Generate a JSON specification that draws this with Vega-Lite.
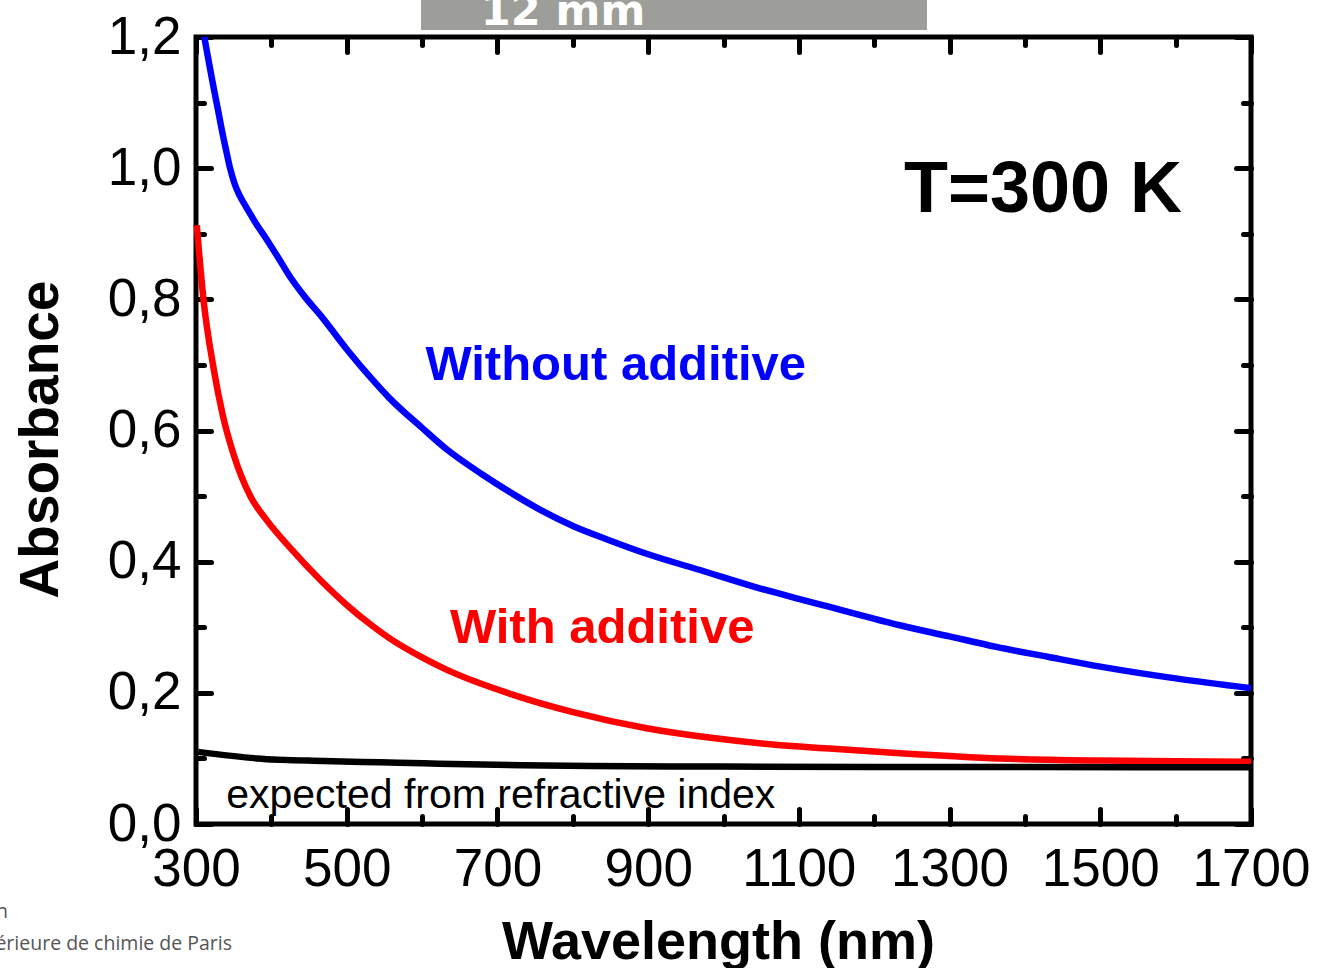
{
  "$schema": "https://vega.github.io/schema/vega-lite/v6.json",
  "width": 1055,
  "height": 787,
  "autosize": {"type": "none"},
  "padding": {"left": 196, "top": 37, "right": 66, "bottom": 144},
  "background": "white",
  "config": {
    "view": {"stroke": "black", "strokeWidth": 5},
    "axis": {
      "domain": false,
      "grid": false,
      "tickColor": "black",
      "tickWidth": 5,
      "tickCap": "round",
      "labelFont": "Liberation Sans",
      "labelFontSize": 53,
      "labelColor": "black",
      "titleFont": "Liberation Sans",
      "titleColor": "black",
      "labelFlush": false,
      "labelOverlap": false
    }
  },
  "datasets": {
    "curves": [
      {"series": "without", "wl": 311, "abs": 1.2},
      {"series": "without", "wl": 318, "abs": 1.156},
      {"series": "without", "wl": 323, "abs": 1.125},
      {"series": "without", "wl": 329, "abs": 1.09},
      {"series": "without", "wl": 334, "abs": 1.06},
      {"series": "without", "wl": 340, "abs": 1.027},
      {"series": "without", "wl": 345, "abs": 1.001},
      {"series": "without", "wl": 351, "abs": 0.977},
      {"series": "without", "wl": 358, "abs": 0.958},
      {"series": "without", "wl": 367, "abs": 0.94},
      {"series": "without", "wl": 380, "abs": 0.915},
      {"series": "without", "wl": 394, "abs": 0.891},
      {"series": "without", "wl": 410, "abs": 0.862},
      {"series": "without", "wl": 425, "abs": 0.834},
      {"series": "without", "wl": 445, "abs": 0.803},
      {"series": "without", "wl": 465, "abs": 0.776},
      {"series": "without", "wl": 500, "abs": 0.724},
      {"series": "without", "wl": 533, "abs": 0.679},
      {"series": "without", "wl": 557, "abs": 0.649},
      {"series": "without", "wl": 600, "abs": 0.604},
      {"series": "without", "wl": 633, "abs": 0.571},
      {"series": "without", "wl": 680, "abs": 0.533},
      {"series": "without", "wl": 721, "abs": 0.503},
      {"series": "without", "wl": 760, "abs": 0.477},
      {"series": "without", "wl": 801, "abs": 0.454},
      {"series": "without", "wl": 850, "abs": 0.432},
      {"series": "without", "wl": 898, "abs": 0.412},
      {"series": "without", "wl": 975, "abs": 0.385},
      {"series": "without", "wl": 1040, "abs": 0.362},
      {"series": "without", "wl": 1101, "abs": 0.343},
      {"series": "without", "wl": 1141, "abs": 0.331},
      {"series": "without", "wl": 1234, "abs": 0.303},
      {"series": "without", "wl": 1300, "abs": 0.286},
      {"series": "without", "wl": 1362, "abs": 0.27},
      {"series": "without", "wl": 1430, "abs": 0.255},
      {"series": "without", "wl": 1500, "abs": 0.24},
      {"series": "without", "wl": 1600, "abs": 0.222},
      {"series": "without", "wl": 1700, "abs": 0.207},
      {"series": "with", "wl": 301, "abs": 0.913},
      {"series": "with", "wl": 310, "abs": 0.799},
      {"series": "with", "wl": 323, "abs": 0.697},
      {"series": "with", "wl": 336, "abs": 0.621},
      {"series": "with", "wl": 350, "abs": 0.563},
      {"series": "with", "wl": 372, "abs": 0.5},
      {"series": "with", "wl": 394, "abs": 0.463},
      {"series": "with", "wl": 425, "abs": 0.421},
      {"series": "with", "wl": 465, "abs": 0.372},
      {"series": "with", "wl": 500, "abs": 0.334},
      {"series": "with", "wl": 533, "abs": 0.303},
      {"series": "with", "wl": 557, "abs": 0.283},
      {"series": "with", "wl": 600, "abs": 0.254},
      {"series": "with", "wl": 633, "abs": 0.235},
      {"series": "with", "wl": 721, "abs": 0.197},
      {"series": "with", "wl": 799, "abs": 0.171},
      {"series": "with", "wl": 898, "abs": 0.146},
      {"series": "with", "wl": 986, "abs": 0.131},
      {"series": "with", "wl": 1101, "abs": 0.118},
      {"series": "with", "wl": 1141, "abs": 0.115},
      {"series": "with", "wl": 1234, "abs": 0.108},
      {"series": "with", "wl": 1367, "abs": 0.1},
      {"series": "with", "wl": 1500, "abs": 0.0967},
      {"series": "with", "wl": 1600, "abs": 0.0955},
      {"series": "with", "wl": 1700, "abs": 0.095},
      {"series": "expected", "wl": 303, "abs": 0.11},
      {"series": "expected", "wl": 381, "abs": 0.1},
      {"series": "expected", "wl": 469, "abs": 0.096},
      {"series": "expected", "wl": 544, "abs": 0.094},
      {"series": "expected", "wl": 602, "abs": 0.0925},
      {"series": "expected", "wl": 734, "abs": 0.0895},
      {"series": "expected", "wl": 823, "abs": 0.0884},
      {"series": "expected", "wl": 1000, "abs": 0.0875},
      {"series": "expected", "wl": 1200, "abs": 0.087},
      {"series": "expected", "wl": 1400, "abs": 0.0868},
      {"series": "expected", "wl": 1700, "abs": 0.0865}
    ]
  },
  "layer": [
    {
      "data": {"name": "curves"},
      "mark": {"type": "line", "strokeWidth": 6.5, "interpolate": "monotone"},
      "encoding": {
        "x": {
          "field": "wl", "type": "quantitative",
          "scale": {"domain": [300, 1700], "nice": false, "zero": false},
          "axis": {
            "orient": "bottom",
            "values": [300, 500, 700, 900, 1100, 1300, 1500, 1700],
            "format": "d",
            "ticks": false,
            "labelPadding": 61,
            "labelBaseline": "alphabetic",
            "title": "Wavelength (nm)",
            "titleFontSize": 54,
            "titleFontWeight": "bold",
            "titleX": 522,
            "titleY": 134,
            "titleBaseline": "alphabetic",
            "titleAlign": "center"
          }
        },
        "y": {
          "field": "abs", "type": "quantitative",
          "scale": {"domain": [0, 1.2], "nice": false, "zero": false},
          "axis": {
            "orient": "left",
            "values": [0, 0.2, 0.4, 0.6, 0.8, 1.0, 1.2],
            "ticks": false,
            "labelPadding": 15,
            "labelAlign": "right",
            "labelBaseline": "middle",
            "labelExpr": "replace(format(datum.value, '.1f'), '.', ',')",
            "title": "Absorbance",
            "titleFontSize": 55,
            "titleFontWeight": "bold",
            "titleAngle": -90,
            "titleX": -139,
            "titleY": 402,
            "titleBaseline": "alphabetic",
            "titleAlign": "center"
          }
        },
        "color": {
          "field": "series", "type": "nominal",
          "scale": {"domain": ["without", "with", "expected"], "range": ["#0000ff", "#ff0000", "#000000"]},
          "legend": null
        },
        "detail": {"field": "series"}
      }
    },
    {
      "data": {"values": [{"label": "T=300 K", "wl": 1424, "abs": 0.933}]},
      "mark": {"type": "text", "font": "Liberation Sans", "fontSize": 72, "fontWeight": "bold", "align": "center", "baseline": "alphabetic", "color": "black"},
      "encoding": {
        "x": {"field": "wl", "type": "quantitative", "scale": {"domain": [300, 1700], "nice": false, "zero": false},
          "axis": {"orient": "bottom", "values": [300, 500, 700, 900, 1100, 1300, 1500, 1700], "labels": false, "tickSize": -15, "title": null}},
        "y": {"field": "abs", "type": "quantitative", "scale": {"domain": [0, 1.2], "nice": false, "zero": false},
          "axis": {"orient": "left", "values": [0, 0.2, 0.4, 0.6, 0.8, 1.0, 1.2], "labels": false, "tickSize": -15, "title": null}},
        "text": {"field": "label"}
      }
    },
    {
      "data": {"values": [
        {"label": "Without additive", "series": "without", "wl": 857, "abs": 0.677},
        {"label": "With additive", "series": "with", "wl": 839, "abs": 0.276}
      ]},
      "mark": {"type": "text", "font": "Liberation Sans", "fontSize": 49, "fontWeight": "bold", "align": "center", "baseline": "alphabetic"},
      "encoding": {
        "x": {"field": "wl", "type": "quantitative", "scale": {"domain": [300, 1700], "nice": false, "zero": false},
          "axis": {"orient": "bottom", "values": [400, 600, 800, 1000, 1200, 1400, 1600], "labels": false, "tickSize": -8, "title": null}},
        "y": {"field": "abs", "type": "quantitative", "scale": {"domain": [0, 1.2], "nice": false, "zero": false},
          "axis": {"orient": "left", "values": [0.1, 0.3, 0.5, 0.7, 0.9, 1.1], "labels": false, "tickSize": -8, "title": null}},
        "color": {"field": "series", "type": "nominal", "scale": {"domain": ["without", "with", "expected"], "range": ["#0000ff", "#ff0000", "#000000"]}, "legend": null},
        "text": {"field": "label"}
      }
    },
    {
      "data": {"values": [{"label": "expected from refractive index", "wl": 340, "abs": 0.0244}]},
      "mark": {"type": "text", "font": "Liberation Sans", "fontSize": 41, "align": "left", "baseline": "alphabetic", "color": "black"},
      "encoding": {
        "x": {"field": "wl", "type": "quantitative", "scale": {"domain": [300, 1700], "nice": false, "zero": false},
          "axis": {"orient": "top", "values": [300, 500, 700, 900, 1100, 1300, 1500, 1700], "labels": false, "tickSize": -15, "title": null}},
        "y": {"field": "abs", "type": "quantitative", "scale": {"domain": [0, 1.2], "nice": false, "zero": false},
          "axis": {"orient": "right", "values": [0, 0.2, 0.4, 0.6, 0.8, 1.0, 1.2], "labels": false, "tickSize": -15, "title": null}},
        "text": {"field": "label"}
      }
    },
    {
      "data": {"values": [{"wl": 598.6, "wl2": 1270, "abs": 1.2107, "abs2": 1.3}]},
      "mark": {"type": "rect", "color": "#9d9d99"},
      "encoding": {
        "x": {"field": "wl", "type": "quantitative", "scale": {"domain": [300, 1700], "nice": false, "zero": false},
          "axis": {"orient": "top", "values": [400, 600, 800, 1000, 1200, 1400, 1600], "labels": false, "tickSize": -8, "title": null}},
        "x2": {"field": "wl2"},
        "y": {"field": "abs", "type": "quantitative", "scale": {"domain": [0, 1.2], "nice": false, "zero": false},
          "axis": {"orient": "right", "values": [0.1, 0.3, 0.5, 0.7, 0.9, 1.1], "labels": false, "tickSize": -8, "title": null}},
        "y2": {"field": "abs2"}
      }
    },
    {
      "data": {"values": [{"label": "12 mm", "wl": 787, "abs": 1.218}]},
      "mark": {"type": "text", "font": "DejaVu Sans", "fontSize": 43, "fontWeight": "bold", "align": "center", "baseline": "alphabetic", "color": "white"},
      "encoding": {
        "x": {"field": "wl", "type": "quantitative", "scale": {"domain": [300, 1700], "nice": false, "zero": false}, "axis": null},
        "y": {"field": "abs", "type": "quantitative", "scale": {"domain": [0, 1.2], "nice": false, "zero": false}, "axis": null},
        "text": {"field": "label"}
      }
    },
    {
      "data": {"values": [
        {"label": "n", "wl": 50.5, "abs": -0.143},
        {"label": "supérieure de chimie de Paris", "wl": 347.8, "abs": -0.192}
      ]},
      "mark": {"type": "text", "font": "Open Sans", "fontSize": 19.5, "align": "right", "baseline": "alphabetic", "color": "#555555"},
      "encoding": {
        "x": {"field": "wl", "type": "quantitative", "scale": {"domain": [300, 1700], "nice": false, "zero": false}, "axis": null},
        "y": {"field": "abs", "type": "quantitative", "scale": {"domain": [0, 1.2], "nice": false, "zero": false}, "axis": null},
        "text": {"field": "label"}
      }
    }
  ],
  "resolve": {"axis": {"x": "independent", "y": "independent"}}
}
